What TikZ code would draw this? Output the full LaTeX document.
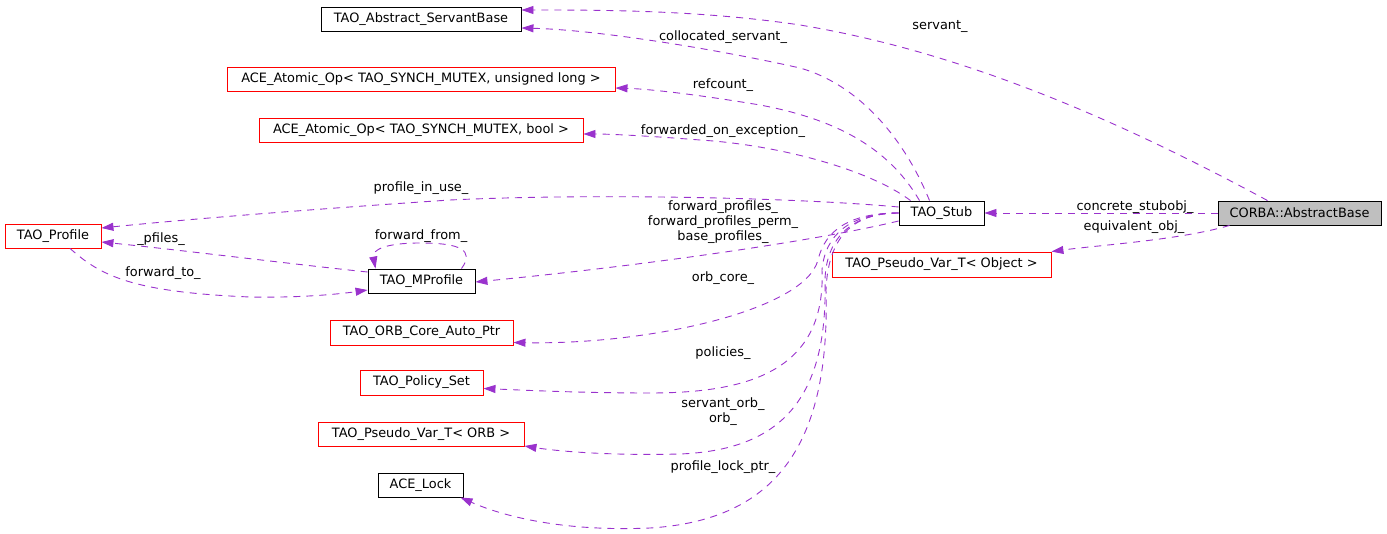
\documentclass[tikz,border=0pt]{standalone}
\usepackage{fontspec}
\setmainfont{DejaVu Sans}
\usetikzlibrary{arrows.meta}
\definecolor{edgecol}{HTML}{9A32CD}
\definecolor{boxgray}{HTML}{BFBFBF}
\begin{document}
\begin{tikzpicture}[x=1pt,y=-1pt,
  every node/.style={font=\fontsize{12.9}{15}\selectfont, inner sep=0pt},
  cls/.style={draw=black, line width=0.9pt, minimum height=24pt},
  clsred/.style={draw=red, line width=0.9pt, minimum height=24pt},
  edge/.style={draw=edgecol, line width=0.9pt, dash pattern=on 7pt off 6pt, -{Triangle[length=12pt,width=8pt]}},
  lbl/.style={align=center}]
\useasboundingbox (0,0) rectangle (1387,534);
% nodes
\node[cls, minimum width=200pt] (asb) at (421,19) {TAO\_Abstract\_ServantBase};
\node[clsred, minimum width=388pt] (aopul) at (421,79) {ACE\_Atomic\_Op< TAO\_SYNCH\_MUTEX, unsigned long >};
\node[clsred, minimum width=324pt] (aopb) at (421,130) {ACE\_Atomic\_Op< TAO\_SYNCH\_MUTEX, bool >};
\node[clsred, minimum width=96pt] (prof) at (53,236) {TAO\_Profile};
\node[cls, minimum width=107pt] (mprof) at (421.5,281) {TAO\_MProfile};
\node[clsred, minimum width=183pt, minimum height=25pt] (orbcore) at (421.5,332.5) {TAO\_ORB\_Core\_Auto\_Ptr};
\node[clsred, minimum width=123pt, minimum height=25pt] (pol) at (421.5,382.5) {TAO\_Policy\_Set};
\node[clsred, minimum width=206pt] (pvorb) at (421,434) {TAO\_Pseudo\_Var\_T< ORB >};
\node[cls, minimum width=85pt] (lock) at (420.5,485) {ACE\_Lock};
\node[cls, minimum width=85pt] (stub) at (941.5,213) {TAO\_Stub};
\node[cls, fill=boxgray, minimum width=163pt] (cab) at (1299.5,213) {CORBA::AbstractBase};
\node[clsred, minimum width=219pt, minimum height=25pt] (pvobj) at (941.5,264.5) {TAO\_Pseudo\_Var\_T< Object >};
% edges
\draw[edge] ([xshift=-32pt]cab.north) .. controls (1100,110) and (950,50) .. (800,25) .. controls (700,10) and (600,10) .. ([yshift=9pt]asb.east);
\draw[edge] ([xshift=-12pt]stub.north) .. controls (905,140) and (860,85) .. (800,68) .. controls (720,50) and (600,30) .. ([yshift=-9pt]asb.east);
\draw[edge] ([xshift=-22pt]stub.north) .. controls (890,150) and (840,120) .. (760,105) .. controls (700,95) and (650,89) .. ([yshift=-9pt]aopul.east);
\draw[edge] ([xshift=-31pt]stub.north) .. controls (870,170) and (780,145) .. (700,140) .. controls (650,136) and (610,134) .. ([yshift=-4pt]aopb.east);
\draw[edge] ([yshift=6pt]stub.west) .. controls (800,198) and (600,193) .. (450,200) .. controls (300,210) and (180,220) .. ([yshift=8pt]prof.east);
\draw[edge] ([yshift=-8pt]stub.west) .. controls (820,240) and (650,265) .. ([yshift=-1pt]mprof.east);
\draw[edge] ([yshift=9pt]mprof.west) .. controls (300,265) and (180,250) .. ([yshift=-6pt]prof.east);
\draw[edge] ([xshift=17pt]prof.south) .. controls (100,275) and (130,292) .. (250,297) .. controls (300,298) and (340,294) .. ([yshift=-9pt]mprof.west);
\draw[edge] ([xshift=40pt]mprof.north) .. controls (475,250) and (460,243) .. (420,243) .. controls (385,243) and (372,250) .. ([xshift=-46pt]mprof.north);
\draw[edge] (stub.west) .. controls (850,213) and (825,230) .. (818,260) .. controls (805,310) and (650,345) .. ([yshift=-10pt]orbcore.east);
\draw[edge] (stub.west) .. controls (850,213) and (825,235) .. (822,270) .. controls (826,370) and (750,393) .. (650,393) .. controls (580,393) and (520,390) .. ([yshift=-6pt]pol.east);
\draw[edge] (stub.west) .. controls (850,213) and (826,240) .. (825,280) .. controls (828,400) and (780,450) .. (680,454) .. controls (600,456) and (550,450) .. ([yshift=-12pt]pvorb.east);
\draw[edge] (stub.west) .. controls (850,213) and (828,240) .. (826,290) .. controls (830,440) and (780,520) .. (650,528) .. controls (560,532) and (500,515) .. ([xshift=40pt]lock.south);
\draw[edge] (cab.west) -- (stub.east);
\draw[edge] ([xshift=-70pt]cab.south) .. controls (1180,240) and (1100,245) .. (pvobj.north east);
% labels
\node[lbl] (l1) at (940,26) {servant\_};
\node[lbl] (l2) at (723,37) {collocated\_servant\_};
\node[lbl] (l3) at (723,85) {refcount\_};
\node[lbl] (l4) at (723,131) {forwarded\_on\_exception\_};
\node[lbl] (l5) at (421,188) {profile\_in\_use\_};
\node[lbl] (l6) at (421,236) {forward\_from\_};
\node[lbl] (l7) at (161,239) {\_pfiles\_};
\node[lbl] (l8) at (163,273) {forward\_to\_};
\node[lbl] (l9) at (723,222) {forward\_profiles\_\\forward\_profiles\_perm\_\\base\_profiles\_};
\node[lbl] (l10) at (723,278) {orb\_core\_};
\node[lbl] (l11) at (1135,207) {concrete\_stubobj\_};
\node[lbl] (l12) at (1134,227) {equivalent\_obj\_};
\node[lbl] (l13) at (723,353) {policies\_};
\node[lbl] (l14) at (723,412) {servant\_orb\_\\orb\_};
\node[lbl] (l15) at (723,467) {profile\_lock\_ptr\_};
\end{tikzpicture}
\end{document}
